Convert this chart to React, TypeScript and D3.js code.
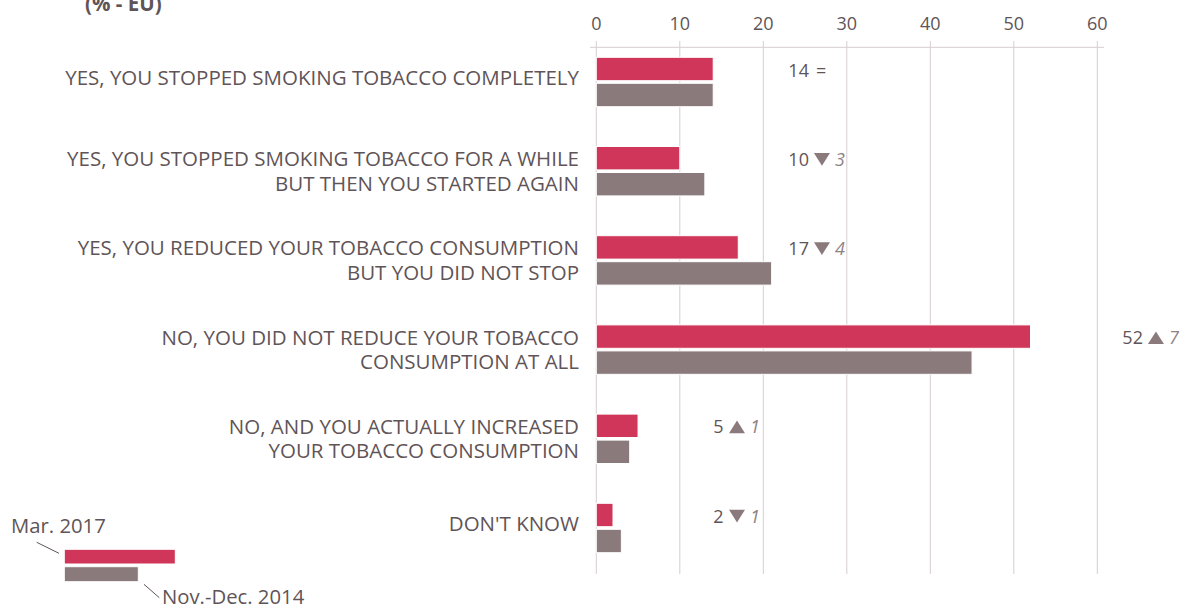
import React from "react";
import * as d3 from "d3";

// ---- data ----
const categories: string[][] = [
  ["YES, YOU STOPPED SMOKING TOBACCO COMPLETELY"],
  ["YES, YOU STOPPED SMOKING TOBACCO FOR A WHILE", "BUT THEN YOU STARTED AGAIN"],
  ["YES, YOU REDUCED YOUR TOBACCO CONSUMPTION", "BUT YOU DID NOT STOP"],
  ["NO, YOU DID NOT REDUCE YOUR TOBACCO", "CONSUMPTION AT ALL"],
  ["NO, AND YOU ACTUALLY INCREASED", "YOUR TOBACCO CONSUMPTION"],
  ["DON'T KNOW"],
];
const mar2017 = [14, 10, 17, 52, 5, 2];
const nov2014 = [14, 13, 21, 45, 4, 3];
const changeDir = ["=", "down", "down", "up", "up", "down"];
const changeVal = ["", "3", "4", "7", "1", "1"];
const labelAt = [23, 23, 23, 63, 14, 14]; // annotation position in value units
const tickValues = [0, 10, 20, 30, 40, 50, 60];
const seriesNames = ["Mar. 2017", "Nov.-Dec. 2014"];
const title = "(% - EU)";

// ---- style ----
const RED = "#cf3659";
const GREY = "#8a7a7c";
const TEXT = "#5f5457";
const GRID = "#d7cdcd";
const FONT = "'Open Sans', 'Noto Sans', sans-serif";

export default function App() {
  const W = 1184;
  const H = 608;
  const x = d3.scaleLinear().domain([0, 60]).range([596.3, 1097.3]);
  const y = d3
    .scaleBand<number>()
    .domain(d3.range(categories.length))
    .range([37.4, 572.6]);
  const bw = 23.4;
  const gap = 1.3;
  const digitW = 9.8;
  const triW = 16;
  const triH = 12.7;

  return (
    <svg
      width={W}
      height={H}
      style={{ position: "absolute", left: 0, top: 0, background: "#fff" }}
      fontFamily={FONT}
    >
      {/* title */}
      <text x={85} y={11} fontSize={20.5} fontWeight={700} fill={TEXT}>
        {title}
      </text>

      {/* grid */}
      {tickValues.map((t) => (
        <g key={t}>
          <line x1={x(t)} x2={x(t)} y1={41} y2={574} stroke={GRID} strokeWidth={1} />
          <text x={x(t)} y={30} textAnchor="middle" fontSize={18} fill={TEXT}>
            {t}
          </text>
        </g>
      ))}
      <line x1={590} x2={1104} y1={47.3} y2={47.3} stroke={GRID} strokeWidth={1} />

      {categories.map((lines, i) => {
        const c = (y(i) as number) + y.bandwidth() / 2;
        const n = lines.length;
        const lh = 24.5;
        const off = n === 1 ? -4 : 0;
        const x0 = x(labelAt[i]);
        const base = c - 5.5;
        const numStr = String(mar2017[i]);
        const tx = x0 + numStr.length * digitW + 6;
        const up = changeDir[i] === "up";
        const tri =
          changeDir[i] === "="
            ? null
            : up
            ? `M${tx},${base} L${tx + triW},${base} L${tx + triW / 2},${base - triH} Z`
            : `M${tx},${base - triH} L${tx + triW},${base - triH} L${tx + triW / 2},${base} Z`;
        return (
          <g key={i}>
            <text textAnchor="end" fontSize={20.5} fill={TEXT}>
              {lines.map((ln, j) => (
                <tspan key={j} x={579} y={c + (j - (n - 1) / 2) * lh + 7.3 + off}>
                  {ln}
                </tspan>
              ))}
            </text>
            <rect
              x={x(0)}
              y={c - gap - bw}
              width={x(mar2017[i]) - x(0)}
              height={bw}
              fill={RED}
              stroke="#fff"
              strokeWidth={1}
            />
            <rect
              x={x(0)}
              y={c + gap}
              width={x(nov2014[i]) - x(0)}
              height={bw}
              fill={GREY}
              stroke="#fff"
              strokeWidth={1}
            />
            <text x={x0} y={base} fontSize={18} fill={TEXT}>
              {numStr}
              {changeDir[i] === "=" ? <tspan dx={7}>=</tspan> : null}
            </text>
            {tri && <path d={tri} fill={GREY} />}
            {tri && (
              <text
                x={tx + triW + 5}
                y={base}
                fontSize={18}
                fontStyle="italic"
                fill="#8e8285"
              >
                {changeVal[i]}
              </text>
            )}
          </g>
        );
      })}

      {/* legend */}
      <rect x={64.3} y={549.3} width={111} height={14.7} fill={RED} stroke="#fff" strokeWidth={1} />
      <rect x={64.3} y={566.7} width={74} height={15} fill={GREY} stroke="#fff" strokeWidth={1} />
      <text x={11} y={533} fontSize={20.3} fill={TEXT}>
        {seriesNames[0]}
      </text>
      <line x1={36.7} y1={542.3} x2={59} y2={553.3} stroke={TEXT} strokeWidth={1} />
      <text x={162} y={603.5} fontSize={20.3} fill={TEXT}>
        {seriesNames[1]}
      </text>
      <line x1={144} y1={584.3} x2={159.3} y2={597.7} stroke={TEXT} strokeWidth={1} />
    </svg>
  );
}
